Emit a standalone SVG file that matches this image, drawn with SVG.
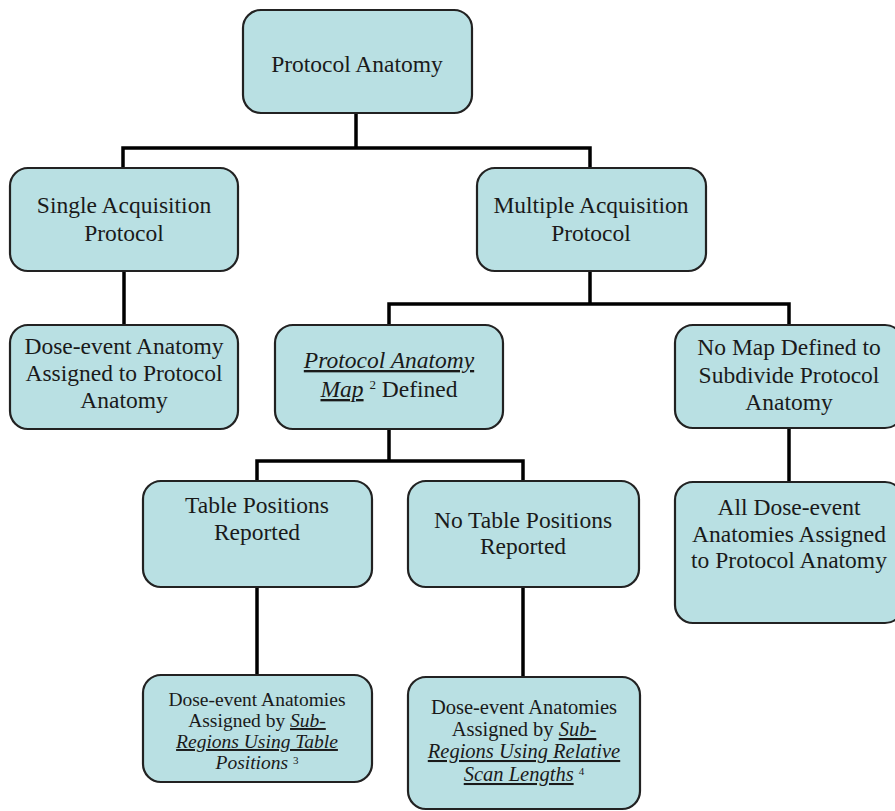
<svg xmlns="http://www.w3.org/2000/svg" width="895" height="811" viewBox="0 0 895 811">
<style>
.box{fill:#b9e0e3;stroke:#222;stroke-width:2.2}
.t{font-family:"Liberation Serif","Times New Roman",serif;font-size:23.5px;fill:#1a1a1a;text-anchor:middle}
.s{font-size:19.5px}
.s2{font-size:20.5px}
.i{font-style:italic}
.u{text-decoration:underline}
.sup{font-size:13px}
.sup2{font-size:11px}
.conn{fill:none;stroke:#000;stroke-width:3.5;stroke-linejoin:miter;stroke-linecap:butt}
</style>
<rect width="895" height="811" fill="#fff"/>
<g id="connectors">
<path class="conn" d="M356,113 V148 M123,168 V148 H590 V168"/>
<path class="conn" d="M124,271 V325"/>
<path class="conn" d="M590,271 V304 M389,325 V304 H789 V325"/>
<path class="conn" d="M389,429 V461 M257,481 V461 H523 V481"/>
<path class="conn" d="M789,428 V482"/>
<path class="conn" d="M257,587 V675"/>
<path class="conn" d="M523,587 V677"/>
</g>
<g id="n-protocol-anatomy">
<rect class="box" x="243" y="10" width="229" height="103" rx="18"/>
<text class="t" x="357" y="72">Protocol Anatomy</text>
</g>
<g id="n-single">
<rect class="box" x="10" y="168" width="228" height="103" rx="18"/>
<text class="t" x="124" y="213">Single Acquisition</text>
<text class="t" x="124" y="241">Protocol</text>
</g>
<g id="n-multiple">
<rect class="box" x="477" y="168" width="229" height="103" rx="18"/>
<text class="t" x="591" y="213">Multiple Acquisition</text>
<text class="t" x="591" y="241">Protocol</text>
</g>
<g id="n-dose-event-anatomy">
<rect class="box" x="10" y="325" width="228" height="104" rx="18"/>
<text class="t" x="124" y="354">Dose-event Anatomy</text>
<text class="t" x="124" y="381">Assigned to Protocol</text>
<text class="t" x="124" y="408">Anatomy</text>
</g>
<g id="n-map-defined">
<rect class="box" x="275" y="325" width="228" height="104" rx="18"/>
<text class="t" x="389" y="368"><tspan class="i u">Protocol Anatomy</tspan></text>
<text class="t" x="389" y="397"><tspan class="i u">Map</tspan> <tspan class="sup" dy="-8">2</tspan><tspan dy="8"> Defined</tspan></text>
</g>
<g id="n-no-map">
<rect class="box" x="675" y="325" width="228" height="103" rx="18"/>
<text class="t" x="789" y="355">No Map Defined to</text>
<text class="t" x="789" y="383">Subdivide Protocol</text>
<text class="t" x="789" y="410">Anatomy</text>
</g>
<g id="n-table-positions">
<rect class="box" x="143" y="481" width="229" height="106" rx="18"/>
<text class="t" x="257" y="513">Table Positions</text>
<text class="t" x="257" y="540">Reported</text>
</g>
<g id="n-no-table-positions">
<rect class="box" x="408" y="481" width="231" height="106" rx="18"/>
<text class="t" x="523" y="528">No Table Positions</text>
<text class="t" x="523" y="554">Reported</text>
</g>
<g id="n-all-dose-event">
<rect class="box" x="675" y="482" width="228" height="141" rx="18"/>
<text class="t" x="789" y="515">All Dose-event</text>
<text class="t" x="789" y="542">Anatomies Assigned</text>
<text class="t" x="789" y="568">to Protocol Anatomy</text>
</g>
<g id="n-subregions-table">
<rect class="box" x="143" y="675" width="229" height="107" rx="18"/>
<text class="t s" x="257" y="706">Dose-event Anatomies</text>
<text class="t s" x="257" y="727">Assigned by <tspan class="i u">Sub-</tspan></text>
<text class="t s" x="257" y="748"><tspan class="i u">Regions Using Table</tspan></text>
<text class="t s" x="257" y="769"><tspan class="i">Positions</tspan> <tspan class="sup2" dy="-5">3</tspan></text>
</g>
<g id="n-subregions-relative">
<rect class="box" x="408" y="677" width="232" height="132" rx="18"/>
<text class="t s2" x="524" y="714">Dose-event Anatomies</text>
<text class="t s2" x="524" y="736">Assigned by <tspan class="i u">Sub-</tspan></text>
<text class="t s2" x="524" y="758"><tspan class="i u">Regions Using Relative</tspan></text>
<text class="t s2" x="524" y="781"><tspan class="i u">Scan Lengths</tspan> <tspan class="sup2" dy="-6">4</tspan></text>
</g>
</svg>
